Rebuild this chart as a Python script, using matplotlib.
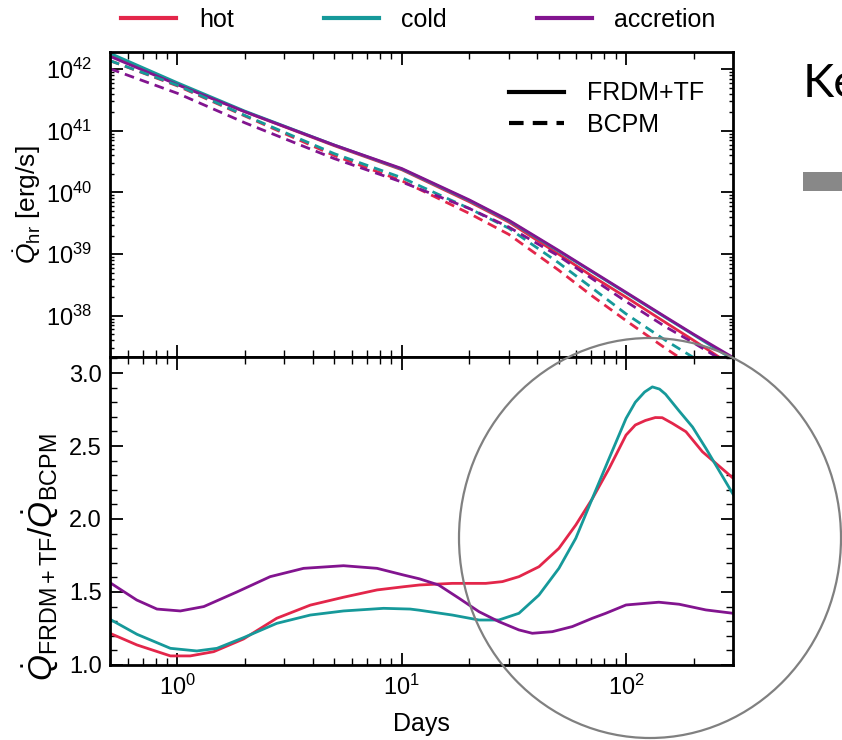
import matplotlib.pyplot as plt
from matplotlib.lines import Line2D
from matplotlib.patches import Ellipse, Rectangle
from matplotlib.ticker import LogLocator, MultipleLocator, NullFormatter, FormatStrFormatter

plt.rcParams['font.family'] = ['Liberation Sans', 'DejaVu Sans']
plt.rcParams['mathtext.fontset'] = 'custom'
plt.rcParams['mathtext.rm'] = 'Liberation Sans'
plt.rcParams['mathtext.it'] = 'Liberation Sans:italic'
plt.rcParams['mathtext.bf'] = 'Liberation Sans:bold'

RED = '#e3264a'
TEAL = '#16999a'
PURPLE = '#82148f'

# heating rate (erg/s) vs time (days)
days = [0.5, 1, 2, 5, 10, 20, 30, 50, 70, 100, 150, 200, 300]
hot_frdm = [1.70e42, 5.75e41, 2.04e41, 5.75e40, 2.34e40, 7.08e39, 3.31e39,
            1.00e39, 4.47e38, 2.00e38, 7.76e37, 3.98e37, 1.51e37]
cold_frdm = [1.82e42, 6.03e41, 2.09e41, 5.89e40, 2.40e40, 7.41e39, 3.47e39,
             1.12e39, 5.25e38, 2.34e38, 9.33e37, 4.90e37, 1.95e37]
acc_frdm = [1.62e42, 5.62e41, 2.04e41, 5.89e40, 2.45e40, 7.59e39, 3.55e39,
            1.15e39, 5.37e38, 2.40e38, 9.55e37, 5.01e37, 2.10e37]
hot_bcpm = [1.38e42, 5.37e41, 1.74e41, 3.98e40, 1.55e40, 4.57e39, 2.09e39,
            5.50e38, 2.14e38, 8.32e37, 2.95e37, 1.48e37, 6.0e36]
cold_bcpm = [1.38e42, 5.50e41, 1.78e41, 4.27e40, 1.74e40, 5.50e39, 2.63e39,
             7.24e38, 2.88e38, 1.07e38, 3.98e37, 2.09e37, 7.9e36]
acc_bcpm = [1.02e42, 4.07e41, 1.35e41, 3.55e40, 1.48e40, 5.50e39, 2.75e39,
            9.33e38, 4.07e38, 1.70e38, 6.61e37, 3.63e37, 1.48e37]

# ratio FRDM+TF / BCPM
days_hot = [0.5, 0.66, 0.93, 1.14, 1.45, 1.97, 2.77, 3.91, 5.5, 7.76, 10.2, 12,
            16.8, 23.7, 28.1, 33.3, 40.9, 50.2, 59.7, 70.8, 84.1, 100, 110, 122,
            135, 145, 161, 185, 219, 300]
ratio_hot = [1.217, 1.137, 1.062, 1.062, 1.091, 1.178, 1.32, 1.41, 1.464, 1.514,
             1.536, 1.548, 1.559, 1.559, 1.571, 1.605, 1.673, 1.799, 1.959, 2.14,
             2.347, 2.575, 2.644, 2.675, 2.695, 2.694, 2.655, 2.598, 2.461, 2.28]

days_cold = [0.5, 0.66, 0.93, 1.22, 1.5, 1.97, 2.77, 3.91, 5.5, 8.3, 10.9, 12,
             16.8, 22.1, 27.1, 33.3, 40.9, 50.2, 59.7, 70.8, 84.1, 100, 110, 121,
             131, 141, 150, 172.5, 198, 227, 300]
ratio_cold = [1.313, 1.21, 1.114, 1.096, 1.114, 1.187, 1.285, 1.342, 1.37, 1.388,
              1.383, 1.375, 1.342, 1.308, 1.308, 1.354, 1.479, 1.662, 1.868, 2.142,
              2.416, 2.689, 2.80, 2.87, 2.905, 2.89, 2.855, 2.74, 2.63, 2.484, 2.17]

days_acc = [0.5, 0.658, 0.81, 1.03, 1.31, 1.84, 2.59, 3.65, 5.5, 7.76, 10.2, 12,
            14.6, 18, 22.1, 27.1, 33.3, 38.2, 46.9, 57.6, 70.8, 81.2, 100, 140,
            172.5, 227, 300]
ratio_acc = [1.564, 1.445, 1.383, 1.37, 1.40, 1.50, 1.605, 1.662, 1.68, 1.662,
             1.616, 1.59, 1.548, 1.457, 1.365, 1.297, 1.24, 1.217, 1.228, 1.263,
             1.32, 1.354, 1.411, 1.43, 1.416, 1.377, 1.354]

fig = plt.figure(figsize=(8.42, 7.40), dpi=100)
ax1 = fig.add_axes([0.1306, 0.5176, 0.740, 0.4121])
ax2 = fig.add_axes([0.1306, 0.1014, 0.740, 0.4162])

dash = (0, (3.5, 2.2))
lw = 2.0
ax1.plot(days, hot_frdm, color=RED, lw=lw)
ax1.plot(days, cold_frdm, color=TEAL, lw=lw)
ax1.plot(days, acc_frdm, color=PURPLE, lw=lw)
ax1.plot(days, hot_bcpm, color=RED, lw=lw, ls=dash)
ax1.plot(days, cold_bcpm, color=TEAL, lw=lw, ls=dash)
ax1.plot(days, acc_bcpm, color=PURPLE, lw=lw, ls=dash)

ax2.plot(days_hot, ratio_hot, color=RED, lw=lw)
ax2.plot(days_cold, ratio_cold, color=TEAL, lw=lw)
ax2.plot(days_acc, ratio_acc, color=PURPLE, lw=lw)

for ax in (ax1, ax2):
    ax.set_xscale('log')
    ax.set_xlim(0.5, 300)
    ax.xaxis.set_major_locator(LogLocator(base=10, numticks=10))
    ax.xaxis.set_minor_locator(LogLocator(base=10, subs=range(2, 10), numticks=20))
    ax.xaxis.set_minor_formatter(NullFormatter())
    ax.tick_params(which='both', direction='in', top=True, right=True, labelsize=17)
    ax.tick_params(which='major', length=9, width=1.3, pad=7)
    ax.tick_params(which='minor', length=5, width=1.0)
    for sp in ax.spines.values():
        sp.set_linewidth(2)

ax1.set_yscale('log')
ax1.set_ylim(10**37.33, 10**42.28)
ax1.yaxis.set_major_locator(LogLocator(base=10, numticks=10))
ax1.yaxis.set_minor_locator(LogLocator(base=10, subs=range(2, 10), numticks=20))
ax1.yaxis.set_minor_formatter(NullFormatter())
ax1.tick_params(axis='y', which='minor', length=3)
ax1.tick_params(axis='y', which='major', pad=13)
ax1.tick_params(labelbottom=False)
ax1.set_ylabel(r'$\dot{Q}_{\rm hr}$ [erg/s]', fontsize=19)
ax1.yaxis.set_label_coords(-0.108, 0.5)

ax2.set_ylim(1.0, 3.11)
ax2.yaxis.set_major_locator(MultipleLocator(0.5))
ax2.yaxis.set_minor_locator(MultipleLocator(0.1))
ax2.yaxis.set_major_formatter(FormatStrFormatter('%.1f'))
ax2.tick_params(axis='y', which='major', pad=6)
ax2.set_xlabel('Days', fontsize=18, labelpad=9)
ax2.set_ylabel(r'$\dot{Q}_{\rm FRDM+TF}/\dot{Q}_{\rm BCPM}$', fontsize=24)
ax2.yaxis.set_label_coords(-0.080, 0.35)

# model legend above the panels
model_handles = [Line2D([], [], color=c, lw=3) for c in (RED, TEAL, PURPLE)]
fig.legend(model_handles, ['hot', 'cold', 'accretion'], loc='center',
           bbox_to_anchor=(0.497, 1 - 20 / 740), ncol=3, frameon=False,
           fontsize=18, handlelength=2.2, handletextpad=0.9, columnspacing=3.6)

# mass model legend inside the top panel
mass_handles = [Line2D([], [], color='black', lw=3),
                Line2D([], [], color='black', lw=3, ls=(0, (3.5, 2.2)))]
ax1.legend(mass_handles, ['FRDM+TF', 'BCPM'], loc='upper left',
           bbox_to_anchor=(0.621, 0.945), frameon=False, fontsize=18,
           handlelength=2.2, handletextpad=0.9, labelspacing=0.3, borderpad=0)

# slide decorations
fig.text(803 / 842, 1 - 97 / 740, 'Ke', fontsize=34, family='Lato', va='baseline')
fig.add_artist(Rectangle((803 / 842, 1 - 191 / 740), 40 / 842, 19 / 740,
                         transform=fig.transFigure, color='#888888', lw=0))
fig.add_artist(Ellipse((650 / 842, 1 - 538 / 740), 382 / 842, 400 / 740,
                       transform=fig.transFigure, fill=False,
                       edgecolor='#808080', lw=1.6, zorder=10))

fig.savefig('out.png', dpi=100)
